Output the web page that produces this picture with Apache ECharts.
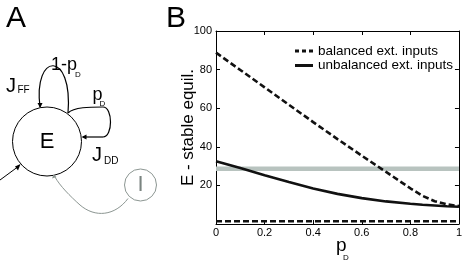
<!DOCTYPE html>
<html><head><meta charset="utf-8">
<script src="https://cdn.jsdelivr.net/npm/echarts@6/dist/echarts.min.js"></script>
<style>html,body{margin:0;padding:0;background:#fff}#c{width:465px;height:265px}</style>
</head><body><div id="c"></div>
<script>
const pD = [0, 0.1, 0.2, 0.3, 0.4, 0.5, 0.6, 0.7, 0.8, 0.85, 0.9, 0.95, 1.0];
const balanced = [88.8, 79.8, 70.8, 61.8, 52.8, 44.0, 35.4, 27.0, 18.5, 14.6, 11.8, 10.2, 9.3];
const unbalanced = [32.5, 29.0, 25.3, 21.8, 18.4, 15.6, 13.4, 11.7, 10.5, 10.0, 9.6, 9.2, 8.9];
const balancedLow = [1.4, 1.4, 1.4, 1.4, 1.4, 1.4, 1.4, 1.4, 1.4, 1.4, 1.4, 1.4, 1.4];
const thresholdLevel = 28.6;
const xTicks = [0, 0.2, 0.4, 0.6, 0.8, 1];
const yTicks = [20, 40, 60, 80, 100];
const seriesNames = ['balanced ext. inputs', 'unbalanced ext. inputs'];

const zip = (xs, ys) => xs.map((x, i) => [x, ys[i]]);
const FONT = 'Liberation Sans, Arial, Helvetica, sans-serif';
const chart = echarts.init(document.getElementById('c'), null, {renderer: 'canvas'});

const axisCommon = {
  axisLine: {show: true, onZero: false, lineStyle: {color: '#000', width: 1}},
  axisTick: {show: true, inside: true, length: 4, lineStyle: {color: '#000', width: 1}},
  splitLine: {show: false}
};
const black = '#111';
const gray = '#8c9692';

function bez(p0, c1, c2, p1, color, w) {
  return {type: 'bezierCurve',
    shape: {x1: p0[0], y1: p0[1], cpx1: c1[0], cpy1: c1[1], cpx2: c2[0], cpy2: c2[1], x2: p1[0], y2: p1[1]},
    style: {fill: 'none', stroke: color, lineWidth: w}};
}
function txt(x, y, s, size, color, extra) {
  return {type: 'text', x: x, y: y, style: Object.assign({text: s, font: size + 'px ' + FONT, fill: color || '#000'}, extra || {})};
}

const option = {
  animation: false,
  backgroundColor: '#fff',
  grid: {left: 216, top: 31, width: 246, height: 193, containLabel: false},
  xAxis: [
    Object.assign({type: 'value', min: 0, max: 1, interval: 0.2, position: 'bottom',
      axisLabel: {show: true, color: '#000', fontFamily: FONT, fontSize: 11, margin: 3,
        formatter: v => xTicks.some(t => Math.abs(t - v) < 1e-9) ? String(+v.toFixed(1)) : ''}}, axisCommon),
    Object.assign({type: 'value', min: 0, max: 1, interval: 0.2, position: 'top',
      axisLabel: {show: false}}, axisCommon)
  ],
  yAxis: [
    Object.assign({type: 'value', min: 0, max: 100, interval: 20, position: 'left',
      name: 'E - stable equil.', nameLocation: 'middle', nameRotate: 90, nameGap: 19,
      nameMoveOverlap: false,
      nameTextStyle: {color: '#000', fontFamily: FONT, fontSize: 17},
      axisLabel: {show: true, color: '#000', fontFamily: FONT, fontSize: 11, margin: 4,
        formatter: v => yTicks.includes(v) ? String(v) : ''}}, axisCommon),
    Object.assign({type: 'value', min: 0, max: 100, interval: 20, position: 'right',
      axisLabel: {show: false}}, axisCommon)
  ],
  legend: {
    data: [
      {name: seriesNames[0], icon: 'path://M0,0H4V3H0Z M7,0H11V3H7Z M14,0H18V3H14Z'},
      {name: seriesNames[1], icon: 'path://M0,0H18V3H0Z'}
    ],
    orient: 'vertical', left: 295, top: 44, itemWidth: 18, itemHeight: 3, itemGap: 0.5,
    textStyle: {color: '#000', fontFamily: FONT, fontSize: 13.5, lineHeight: 14},
    padding: 0
  },
  series: [
    {name: 'threshold', type: 'line', data: [[0, thresholdLevel], [1, thresholdLevel]],
      symbol: 'none', lineStyle: {color: '#b8c3bf', width: 4.5}, silent: true, z: 1},
    {name: seriesNames[0], type: 'line', data: zip(pD, balanced), symbol: 'none',
      color: black, lineStyle: {color: black, width: 2.6, type: [6, 3]}, z: 3},
    {name: 'balanced low', type: 'line', data: zip(pD, balancedLow), symbol: 'none',
      color: black, lineStyle: {color: black, width: 2.6, type: [6, 3]}, z: 3},
    {name: seriesNames[1], type: 'line', data: zip(pD, unbalanced), symbol: 'none',
      color: black, lineStyle: {color: black, width: 2.6}, z: 3}
  ],
  graphic: [
    txt(6, 4, 'A', 30),
    txt(166, 4, 'B', 30),
    txt(336, 236, 'p', 19),
    txt(343, 254, 'D', 8),
    {type: 'circle', shape: {cx: 47, cy: 141.5, r: 34.5}, style: {fill: 'none', stroke: '#000', lineWidth: 1}},
    txt(47, 142, 'E', 22, '#000', {align: 'center', verticalAlign: 'middle'}),
    bez([40, 107], [33, 52], [73, 50], [68, 113], '#000', 1.2),
    {type: 'polygon', shape: {points: [[37.5, 103], [42.5, 103], [40.2, 108]]}, style: {fill: '#000'}},
    bez([68, 113], [74, 107], [90, 107], [103, 107], '#000', 1.2),
    bez([103, 107], [113, 107], [113, 137], [103, 137], '#000', 1.2),
    {type: 'line', shape: {x1: 103, y1: 137, x2: 83, y2: 137}, style: {stroke: '#000', lineWidth: 1.2}},
    {type: 'polygon', shape: {points: [[86.5, 134.5], [86.5, 139.5], [81.5, 137]]}, style: {fill: '#000'}},
    {type: 'line', shape: {x1: 0, y1: 180, x2: 19, y2: 166}, style: {stroke: '#000', lineWidth: 1}},
    {type: 'polygon', shape: {points: [[15, 166.5], [18, 170.5], [20.5, 164]]}, style: {fill: '#000'}},
    {type: 'circle', shape: {cx: 140.5, cy: 185, r: 16}, style: {fill: 'none', stroke: gray, lineWidth: 1}},
    txt(140.5, 185, 'I', 22, '#7a8480', {align: 'center', verticalAlign: 'middle'}),
    bez([128, 198.5], [115, 216], [95, 218], [80, 205], gray, 1),
    bez([80, 205], [70, 196], [60, 186], [55, 177], gray, 1),
    {type: 'polygon', shape: {points: [[52, 178.5], [56.5, 177], [53.5, 174.5]]}, style: {fill: gray}},
    txt(6, 76, 'J', 20),
    txt(17.5, 85, 'FF', 10),
    txt(51, 56, '1-p', 18),
    txt(75, 71, 'D', 8),
    txt(92.5, 86, 'p', 18),
    txt(99.5, 100, 'D', 8),
    txt(92, 145, 'J', 20),
    txt(104, 156, 'DD', 10)
  ]
};
chart.setOption(option);
</script></body></html>
